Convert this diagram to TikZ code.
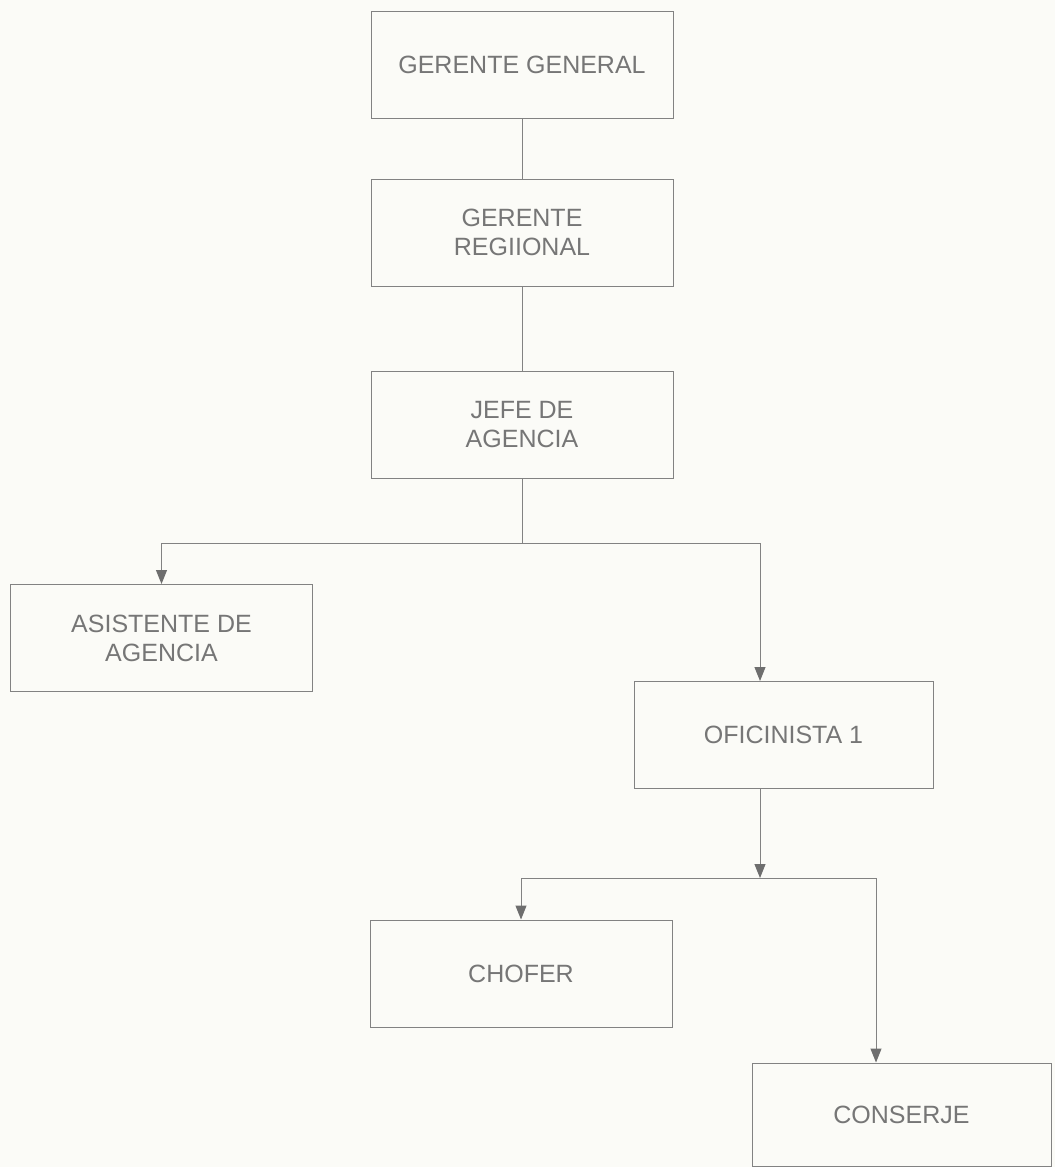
\documentclass[tikz,border=0pt]{standalone}
\usepackage{fontspec}
\setmainfont{Liberation Sans}
\usetikzlibrary{arrows.meta}
\definecolor{bgcol}{RGB}{251,251,247}
\definecolor{linecol}{RGB}{130,130,130}
\definecolor{textcol}{RGB}{118,118,118}
\definecolor{tipcol}{RGB}{110,110,110}
\tikzset{
  orgbox/.style={draw=linecol, line width=1pt, fill=bgcol, minimum width=302pt, minimum height=107pt,
    inner sep=0pt, align=center, text=textcol, font=\fontsize{25}{29}\selectfont},
  conn/.style={draw=linecol, line width=1pt},
  arr/.style={conn, -{Triangle[width=11pt,length=14pt,color=tipcol]}}
}
\begin{document}
\begin{tikzpicture}[x=1pt,y=-1pt]
\useasboundingbox (0,0) rectangle (1055,1167);
\fill[bgcol] (0,0) rectangle (1055,1167);

\node[orgbox] (gg) at (522,64.5) {GERENTE GENERAL};
\node[orgbox] (gr) at (522,232.5) {GERENTE\\REGIIONAL};
\node[orgbox] (ja) at (522,425) {JEFE DE\\AGENCIA};
\node[orgbox] (asis) at (161.5,638) {ASISTENTE DE\\AGENCIA};
\node[orgbox, minimum width=299pt] (of) at (783.5,735) {OFICINISTA 1};
\node[orgbox] (chofer) at (521,973.5) {CHOFER};
\node[orgbox, minimum width=299pt, minimum height=103pt] (conserje) at (901.5,1114.5) {CONSERJE};

\coordinate (jabar) at (522,543);
\coordinate (jabarl) at (161.5,543);
\coordinate (jabarr) at (760,543);
\coordinate (ofbar) at (760,878);
\coordinate (ofbarl) at (521,878);
\coordinate (ofbarr) at (876,878);

\draw[conn] (gg.south) -- (gr.north);
\draw[conn] (gr.south) -- (ja.north);
\draw[conn] (ja.south) -- (jabar);
\draw[conn] (jabarl) -- (jabarr);
\draw[arr] (jabarl) -- (asis.north);
\draw[arr] (jabarr) -- (jabarr |- of.north);
\draw[arr] (jabarr |- of.south) -- (ofbar);
\draw[conn] (ofbarl) -- (ofbarr);
\draw[arr] (ofbarl) -- (chofer.north);
\draw[arr] (ofbarr) -- (ofbarr |- conserje.north);
\end{tikzpicture}
\end{document}
